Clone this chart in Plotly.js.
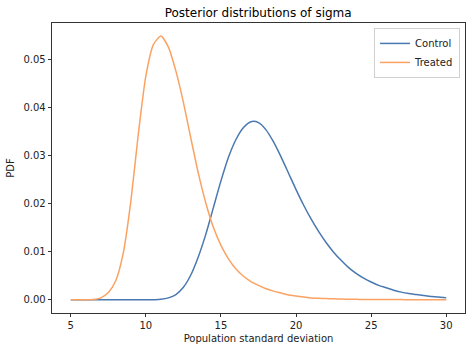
<!DOCTYPE html>
<html>
<head>
<meta charset="utf-8">
<script src="https://cdn.plot.ly/plotly-3.0.1.min.js"></script>
<style>html,body{margin:0;padding:0;background:#fff;}#chart{width:472px;height:352px;}</style>
</head>
<body>
<div id="chart"></div>
<script>
const sigma = [5,5.5,6,6.5,7,7.5,8,8.5,9,9.5,10,10.5,11,11.5,12,12.5,13,13.5,14,14.5,15,15.5,16,16.5,17,17.5,18,18.5,19,19.5,20,20.5,21,21.5,22,22.5,23,23.5,24,24.5,25,25.5,26,26.5,27,27.5,28,28.5,29,29.5,30];
const control = [0,0,0,0,0,0,0,0,0,0,0.00001,0.00003,0.0001,0.0004,0.0011,0.0026,0.0052,0.0090,0.0137,0.0192,0.0247,0.0296,0.0333,0.0358,0.0370,0.0368,0.0353,0.0328,0.0297,0.0263,0.0229,0.0197,0.0168,0.0142,0.0119,0.0099,0.0082,0.0067,0.0055,0.0045,0.0037,0.0030,0.0025,0.0020,0.0016,0.0013,0.0011,0.0009,0.0007,0.0006,0.0004];
const treated = [0,0,0.00001,0.00005,0.0004,0.0015,0.0040,0.0098,0.0205,0.0345,0.0465,0.0530,0.0548,0.0525,0.0475,0.0410,0.0335,0.0262,0.0200,0.0150,0.0113,0.0085,0.0064,0.0049,0.0038,0.0030,0.0023,0.0018,0.0014,0.0010,0.0008,0.0006,0.0004,0.0003,0.00025,0.0002,0.00015,0.00012,0.0001,0.00008,0.00007,0.00006,0.00005,0.00004,0.00004,0.00003,0.00003,0.00002,0.00002,0.00002,0.00002];
const seriesNames = ['Control','Treated'];
const xTicks = [5,10,15,20,25,30];
const yTicks = [0,0.01,0.02,0.03,0.04,0.05];

const font = {family:'DejaVu Sans, sans-serif', size:10, color:'#222'};
const traces = [
  {x:sigma, y:control, name:seriesNames[0], type:'scatter', mode:'lines', line:{color:'#4a78b0', width:1.5, shape:'spline', smoothing:0.8}},
  {x:sigma, y:treated, name:seriesNames[1], type:'scatter', mode:'lines', line:{color:'#fba262', width:1.5, shape:'spline', smoothing:0.6}}
];
const layout = {
  width:472, height:352,
  margin:{l:52, r:7, t:23, b:39},
  paper_bgcolor:'#fff', plot_bgcolor:'#fff',
  font:font,
  title:{text:'Posterior distributions of sigma', font:{family:'DejaVu Sans, sans-serif', size:12, color:'#000'}, x:0.547, xanchor:'center', y:0.965, yanchor:'middle'},
  xaxis:{range:[3.75,31.25], tickvals:xTicks, ticktext:xTicks.map(String), ticks:'outside', ticklen:3.5, tickcolor:'#000', tickwidth:0.8,
         showline:true, mirror:true, linecolor:'#000', linewidth:0.8, showgrid:false, zeroline:false,
         title:{text:'Population standard deviation', font:font, standoff:4}},
  yaxis:{range:[-0.00274,0.0575], tickvals:yTicks, ticktext:yTicks.map(v=>v.toFixed(2)), ticks:'outside', ticklen:3.5, tickcolor:'#000', tickwidth:0.8,
         showline:true, mirror:true, linecolor:'#000', linewidth:0.8, showgrid:false, zeroline:false,
         title:{text:'PDF', font:font, standoff:6}},
  showlegend:true,
  legend:{x:0.988, y:0.983, xanchor:'right', yanchor:'top', bgcolor:'rgba(255,255,255,0.8)', bordercolor:'#d0d0d0', borderwidth:1, font:font, tracegroupgap:0, itemwidth:30}
};
Plotly.newPlot('chart', traces, layout, {displayModeBar:false, staticPlot:true});
</script>
</body>
</html>
